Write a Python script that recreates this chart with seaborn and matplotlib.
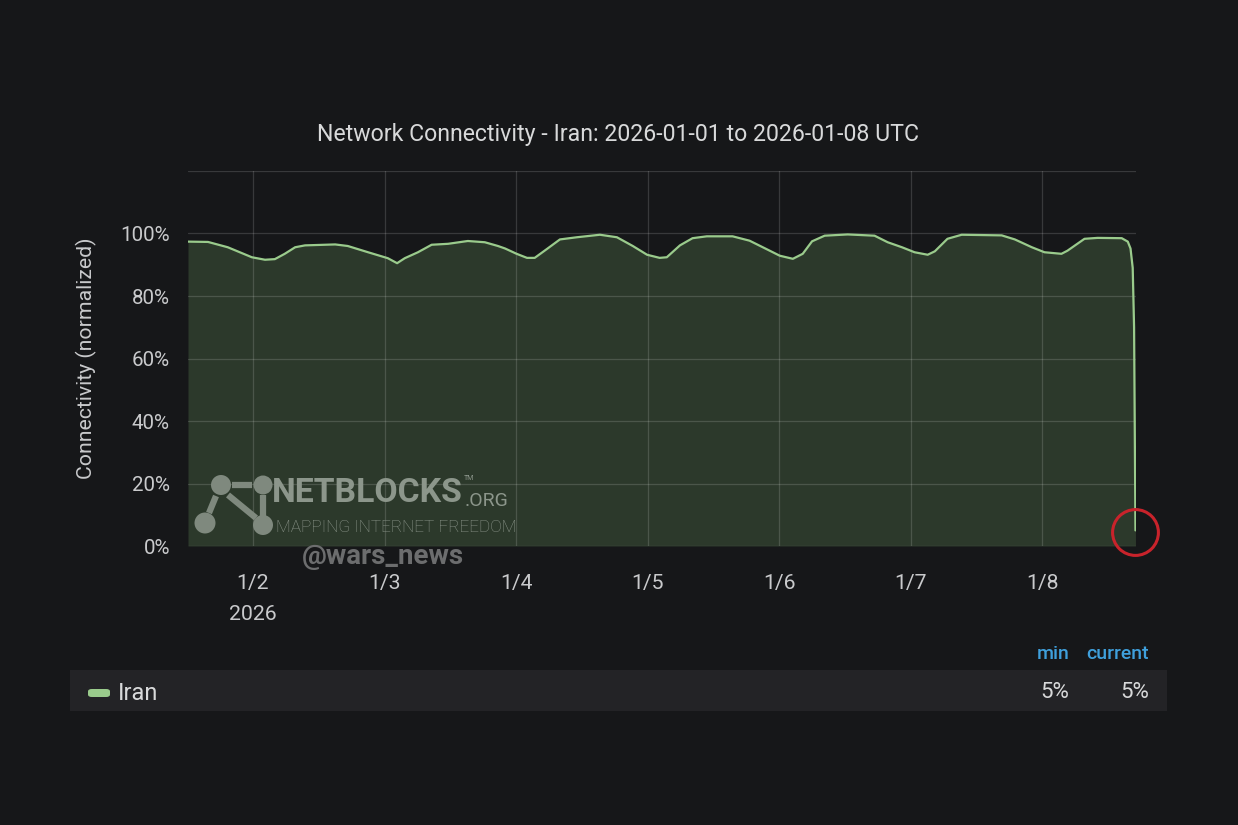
import matplotlib
matplotlib.use("Agg")
import matplotlib.pyplot as plt
from matplotlib.patches import Rectangle, FancyBboxPatch, Circle
from matplotlib.lines import Line2D
from matplotlib.transforms import IdentityTransform
import pandas as pd
import seaborn as sns

# ---------------- data ----------------
hours = [12.15, 15.8, 19.4, 23.8, 26.2, 28.0, 29.8, 31.7, 33.5, 39.0, 41.3, 45.0,
         48.6, 50.3, 51.7, 54.1, 56.6, 59.6, 63.2, 66.3, 68.7, 70.0, 72.1, 74.0,
         75.4, 77.6, 80.0, 83.1, 87.3, 90.4, 93.3, 95.9, 98.2, 99.5, 101.9, 104.2,
         106.8, 111.5, 114.6, 117.7, 120.1, 122.5, 124.3, 126.0, 128.3, 132.5, 137.4,
         139.8, 142.4, 144.7, 147.1, 148.4, 150.7, 153.3, 160.6, 163.0, 166.1, 168.4,
         171.5, 172.6, 175.7, 178.1, 182.5, 183.6, 184.1, 184.5, 184.75, 185.0]
connectivity = [97.4, 97.3, 95.6, 92.4, 91.6, 91.8, 93.5, 95.6, 96.2, 96.5, 96.0, 94.0,
                92.1, 90.5, 92.1, 94.0, 96.4, 96.7, 97.6, 97.2, 96.0, 95.2, 93.5, 92.2,
                92.2, 95.0, 98.1, 98.8, 99.6, 98.8, 96.0, 93.2, 92.2, 92.4, 96.2, 98.5,
                99.1, 99.1, 97.7, 95.0, 92.9, 91.9, 93.5, 97.5, 99.3, 99.7, 99.3,
                97.2, 95.6, 94.0, 93.2, 94.3, 98.3, 99.6, 99.4, 98.1, 95.6, 94.0,
                93.5, 94.5, 98.3, 98.6, 98.5, 97.4, 95.2, 89.0, 70.0, 5.0]
tick_hours = [24, 48, 72, 96, 120, 144, 168]
tick_labels = ["1/2\n2026", "1/3", "1/4", "1/5", "1/6", "1/7", "1/8"]
y_ticks = [0, 20, 40, 60, 80, 100, 120]
y_labels = ["0%", "20%", "40%", "60%", "80%", "100%", ""]
series_name = "Iran"
legend_headers = ["min", "current"]
legend_values = ["5%", "5%"]
title = "Network Connectivity - Iran: 2026-01-01 to 2026-01-08 UTC"

# ---------------- style ----------------
W, H = 1238, 825
BG = "#161719"
LINE = "#9acb8c"
FILL = "#7eb26d"
TXT = "#c9cacc"

sns.set_theme(style="dark")
plt.rcParams["font.family"] = ["Roboto", "DejaVu Sans"]

fig = plt.figure(figsize=(W / 100, H / 100), dpi=100, facecolor=BG)
ax = fig.add_axes([188 / W, 1 - 546 / H, (1136 - 188) / W, (546 - 171) / H])
ax.set_facecolor(BG)

df = pd.DataFrame({"hour": hours, "conn": connectivity})
ax.fill_between(df["hour"], df["conn"], 0, color=FILL, alpha=0.22, lw=0, zorder=1)
sns.lineplot(data=df, x="hour", y="conn", ax=ax, color=LINE, lw=1.6, zorder=3)

ax.set_xlim(hours[0], hours[-1] + 0.1)
ax.set_ylim(y_ticks[0], y_ticks[-1])
ax.set_xticks(tick_hours)
ax.set_xticklabels(tick_labels)
ax.xaxis.get_ticklabels()[0].set_linespacing(1.8)
ax.set_yticks(y_ticks)
ax.set_yticklabels(y_labels)
ax.tick_params(axis="x", length=0, colors=TXT, labelsize=15.3, pad=20)
ax.tick_params(axis="y", length=0, colors=TXT, labelsize=14.8, pad=13)
ax.set_xlabel("")
ax.set_ylabel("Connectivity (normalized)", fontsize=15.3, color=TXT)
ax.yaxis.set_label_coords((97 - 188) / (1136 - 188), 0.5)
ax.grid(True, color="white", alpha=0.15, lw=0.9)
ax.set_axisbelow(False)
for s in ax.spines.values():
    s.set_visible(False)

# red circle highlighting the last point
ax.plot([hours[-1]], [connectivity[-1] - 0.5], marker="o", ms=33, mfc="none",
        mec="#c8232b", mew=2.2, clip_on=False, zorder=6)

# title
fig.text(618 / W, 1 - 134 / H, title, ha="center", va="center", fontsize=16.7, color="#d8d9da")

# ---------------- watermark ----------------
ID = IdentityTransform()
wm = "#8c968b"
wm_logo = "#7f897e"
for (x0, y0), (x1, y1) in [((232, 485), (252, 485)), ((228, 495), (256, 518)),
                           ((216, 496), (209, 513)), ((263, 495), (263, 516))]:
    fig.add_artist(Line2D([x0, x1], [H - y0, H - y1], transform=ID, color=wm_logo,
                          lw=4.5, solid_capstyle="butt"))
for (cx, cy, r) in [(221, 485, 10), (263, 485, 9.5), (205, 523, 10.5), (263, 525, 10)]:
    fig.add_artist(Circle((cx, H - cy), r, transform=ID, color=wm_logo, lw=0))
t_nb = fig.text(272 / W, 1 - 493 / H, "NETBLOCKS", fontweight="bold", fontsize=24.3,
                color=wm, ha="left", va="center")
fig.canvas.draw()
bb = t_nb.get_window_extent()
fig.text((bb.x1 + 2) / W, 1 - 501 / H, ".ORG", fontsize=14, color=wm,
         ha="left", va="center")
fig.text((bb.x1 + 1) / W, 1 - 479 / H, "TM", fontsize=5, color=wm, ha="left", va="center")
fig.text(276 / W, 1 - 528 / H, "MAPPING INTERNET FREEDOM", fontweight="light",
         fontsize=12.4, color=wm, ha="left", va="center")
fig.text(383 / W, 1 - 556 / H, "@wars_news", fontweight="bold", fontsize=20,
         color="#6c6d6e", ha="center", va="center")

# ---------------- legend table ----------------
fig.add_artist(Rectangle((70 / W, 1 - 711 / H), (1167 - 70) / W, 41 / H,
                         transform=fig.transFigure, color="#232326", lw=0, zorder=0))
fig.add_artist(FancyBboxPatch((88 / W, 1 - 697 / H), 22 / W, 8 / H,
                              boxstyle="round,pad=0,rounding_size=0.003",
                              transform=fig.transFigure, color=LINE, lw=0))
fig.text(118 / W, 1 - 693 / H, series_name, ha="left", va="center", fontsize=17, color="#d8d9da")
for xr, hdr, val in zip([1069, 1149], legend_headers, legend_values):
    fig.text(xr / W, 1 - 654 / H, hdr, ha="right", va="center", fontsize=14,
             color="#3fa0dc", fontweight="medium")
    fig.text(xr / W, 1 - 693 / H, val, ha="right", va="center", fontsize=16, color="#d8d9da")

fig.savefig("out.png", dpi=100, facecolor=BG)
